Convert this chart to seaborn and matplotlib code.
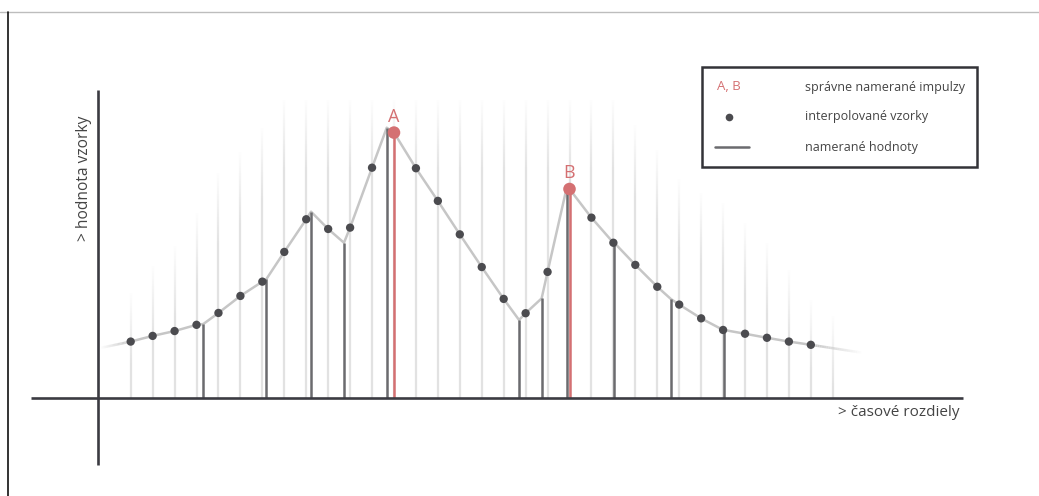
import numpy as np
import pandas as pd
import matplotlib
matplotlib.use("Agg")
import matplotlib.pyplot as plt
import seaborn as sns
from matplotlib.collections import LineCollection
from matplotlib.lines import Line2D
from matplotlib.patches import Rectangle

# ---------------- data ----------------
sample_t = list(range(32))
sample_v = [20.9, 23.0, 24.8, 27.1, 31.5, 37.8, 43.1, 54.1, 66.2, 62.6,
            63.1, 85.3, 98.3, 85.1, 73.0, 60.6, 48.5, 36.7, 31.4, 46.7,
            77.4, 66.8, 57.5, 49.3, 41.2, 34.6, 29.5, 25.2, 23.8, 22.3,
            20.9, 19.7]
measured_t = [3.31, 6.18, 8.22, 9.72, 11.67, 17.70, 18.73, 19.87, 22.04, 24.63, 27.04]
measured_v = [27.4, 44.0, 69.0, 57.5, 100.1, 28.9, 36.9, 77.8, 57.5, 36.6, 25.2]
pulse_labels = ["A", "B"]
pulse_t = [12, 20]
pulse_v = [98.3, 77.4]
fade_t = [-1.4, 33.4]
fade_v = [18.5, 16.7]
grid_t = list(range(33))
grid_top = [40.0, 50.0, 57.4, 69.6, 84.4, 91.9, 101.0, 111.5, 111.5, 111.5,
            111.5, 111.5, 111.5, 111.5, 111.5, 111.5, 111.5, 111.5, 111.5, 111.5,
            111.5, 111.5, 111.5, 101.9, 92.9, 81.9, 77.0, 73.3, 65.9, 58.5,
            48.5, 37.4, 31.5]
legend_labels = ["správne namerané impulzy", "interpolované vzorky", "namerané hodnoty"]
x_label = "> časové rozdiely"
y_label = "> hodnota vzorky"

# ---------------- layout helpers ----------------
W, H = 1039, 496
X0, DX, Y0, DY = 130.7, 21.94, 398.0, 2.7


def px2t(px):
    return (px - X0) / DX


def py2v(py):
    return (Y0 - py) / DY


RED = "#d47072"
DOT = "#4b4b4f"
STEM = "#6b6b6e"
CURVE = "#c6c6c6"
GRID = "#e2e2e2"
AXIS = "#3b3b42"
TEXT = "#444444"

sns.set_theme(style="white")
plt.rcParams["font.family"] = ["Open Sans", "DejaVu Sans"]

fig = plt.figure(figsize=(W / 100, H / 100), dpi=100)
ax = fig.add_axes([0, 0, 1, 1])
ax.set_xlim(px2t(0), px2t(W))
ax.set_ylim(py2v(H), py2v(0))
ax.axis("off")

# faint sample-grid lines with a fading top
fade_len = 28.0
for t, top in zip(grid_t, grid_top):
    solid_top = top - fade_len
    ax.plot([t, t], [0, solid_top], color=GRID, lw=1.6, solid_capstyle="butt", zorder=1)
    ys = np.linspace(solid_top, top, 30)
    segs = [[(t, ys[i]), (t, ys[i + 1])] for i in range(len(ys) - 1)]
    alphas = np.linspace(1, 0, len(segs))
    cols = [matplotlib.colors.to_rgba(GRID, a) for a in alphas]
    ax.add_collection(LineCollection(segs, colors=cols, linewidths=1.6, zorder=1))

# measured value stems
ax.vlines(measured_t, 0, measured_v, color=STEM, lw=1.8, zorder=3)

# curve connecting measured values and samples
curve = pd.DataFrame({
    "t": sample_t + measured_t,
    "v": sample_v + measured_v,
}).sort_values("t")
sns.lineplot(data=curve, x="t", y="v", ax=ax, color=CURVE, lw=1.8,
             estimator=None, sort=True, zorder=2)

# fading curve ends
def fade_segment(t_a, v_a, t_b, v_b, a_from, a_to):
    ts = np.linspace(t_a, t_b, 25)
    vs = np.linspace(v_a, v_b, 25)
    segs = [[(ts[i], vs[i]), (ts[i + 1], vs[i + 1])] for i in range(len(ts) - 1)]
    alphas = np.linspace(a_from, a_to, len(segs))
    cols = [matplotlib.colors.to_rgba(CURVE, a) for a in alphas]
    ax.add_collection(LineCollection(segs, colors=cols, linewidths=1.8, zorder=2))

fade_segment(fade_t[0], fade_v[0], sample_t[0], sample_v[0], 0.0, 1.0)
fade_segment(sample_t[-1], sample_v[-1], fade_t[1], fade_v[1], 1.0, 0.0)

# interpolated samples
is_pulse = [t in pulse_t for t in sample_t]
dots = pd.DataFrame({"t": sample_t, "v": sample_v, "pulse": is_pulse})
sns.scatterplot(data=dots[~dots["pulse"]], x="t", y="v", ax=ax, color=DOT,
                s=36, edgecolor="none", zorder=4, legend=False)

# correct pulses A, B
ax.vlines(pulse_t, 0, pulse_v, color=RED, lw=1.8, zorder=5)
sns.scatterplot(x=pulse_t, y=pulse_v, ax=ax, color=RED, s=82,
                edgecolor="none", zorder=6, legend=False)
for lab, t, v in zip(pulse_labels, pulse_t, pulse_v):
    ax.text(t, v + 2.6, lab, color=RED, fontsize=13, ha="center", va="bottom", zorder=6)

# axes
ax.plot([px2t(31), px2t(963)], [0, 0], color=AXIS, lw=1.9, solid_capstyle="butt", zorder=7)
ax.plot([px2t(98.3), px2t(98.3)], [py2v(90), py2v(465)], color=AXIS, lw=1.9,
        solid_capstyle="butt", zorder=7)
ax.text(px2t(960), py2v(413), x_label, color=TEXT, fontsize=11, ha="right", va="center")
ax.text(px2t(84), py2v(178), y_label, color=TEXT, fontsize=11.2, ha="center", va="center",
        rotation=90)

# legend box
def fx(px):
    return px / W


def fy(py):
    return 1 - py / H

fig.add_artist(Rectangle((fx(701.7), fy(167)), fx(977) - fx(701.7), fy(66.7) - fy(167),
                         transform=fig.transFigure, fill=True, facecolor="white",
                         edgecolor="#333338", lw=1.8, zorder=10))
rows_y = [87, 116.5, 147]
fig.text(fx(717), fy(rows_y[0]), ", ".join(pulse_labels), color=RED, fontsize=9.5,
         ha="left", va="center", zorder=11)
fig.add_artist(Line2D([fx(729)], [fy(rows_y[1])], marker="o", markersize=5.5,
                      color=DOT, markeredgewidth=0, transform=fig.transFigure, zorder=11))
fig.add_artist(Line2D([fx(715), fx(749)], [fy(rows_y[2]), fy(rows_y[2])], color=STEM,
                      lw=1.8, transform=fig.transFigure, zorder=11))
for lab, y in zip(legend_labels, rows_y):
    fig.text(fx(805), fy(y), lab, color=TEXT, fontsize=9, ha="left", va="center", zorder=11)

# outer frame pieces
fig.add_artist(Line2D([0, 1], [fy(12.3), fy(12.3)], color="#bdbdbd", lw=1.0,
                      transform=fig.transFigure))
fig.add_artist(Line2D([fx(8.3), fx(8.3)], [fy(12.3), 0], color="#111111", lw=1.2,
                      transform=fig.transFigure))

fig.savefig("out.png", dpi=100, facecolor="white")
